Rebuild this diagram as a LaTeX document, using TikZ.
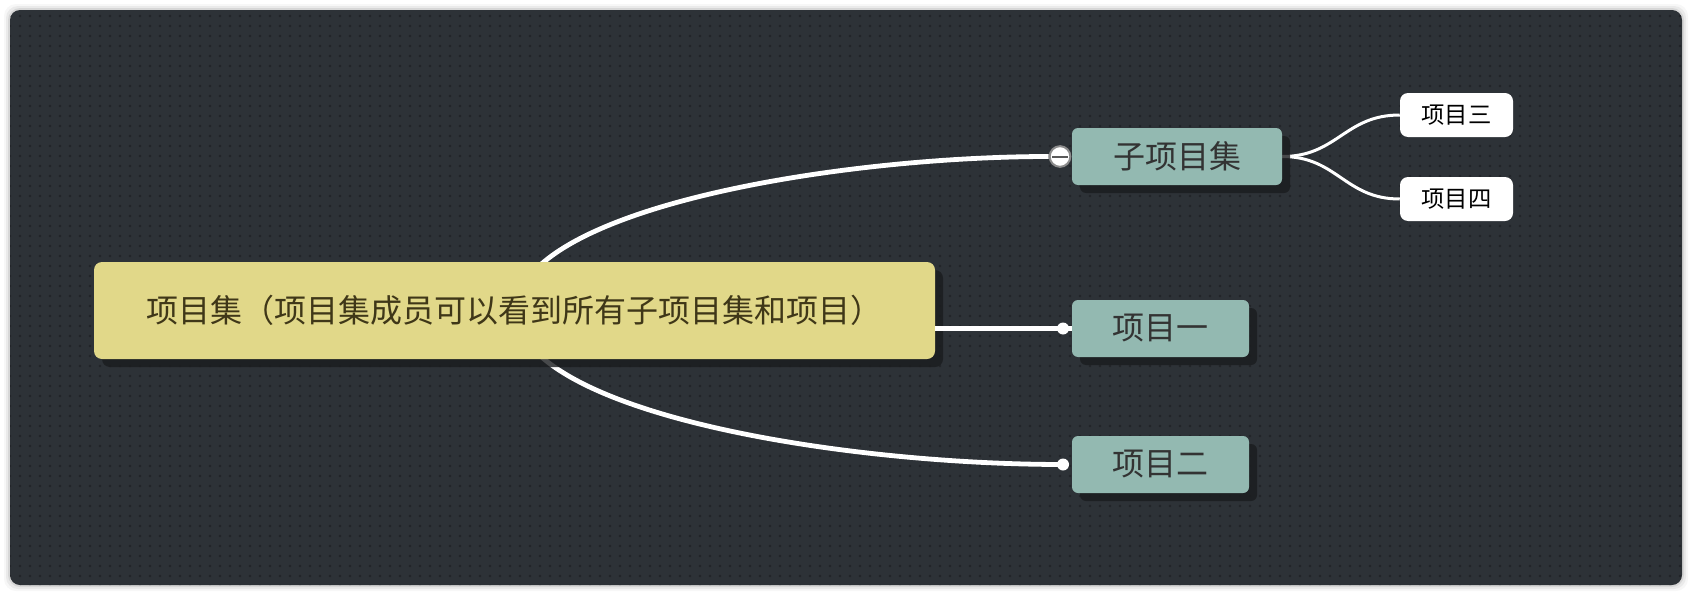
\documentclass[tikz,border=0pt]{standalone}
\usepackage{fontspec}
\setmainfont{Noto Sans CJK SC}
\usetikzlibrary{
  calc,shadows,patterns.meta,backgrounds
}
\definecolor{panelbg}{HTML}{2D3237}
\definecolor{paneldot}{HTML}{212428}
\definecolor{nodeshade}{HTML}{1A1C1E}
\definecolor{rootfill}{HTML}{E1D889}
\definecolor{roottext}{HTML}{3F3718}
\definecolor{topicfill}{HTML}{93B9B1}
\definecolor{topictext}{HTML}{333333}
\definecolor{knobring}{HTML}{8C8C8C}
\definecolor{knobbar}{HTML}{5A5A5A}

\begin{document}
\begin{tikzpicture}[x=0.75pt,y=-0.75pt,
  root/.style={fill=rootfill,text=roottext,rounded corners=6pt,inner sep=0pt,
    minimum width=630.75pt,minimum height=72.75pt,font=\fontsize{24}{28}\selectfont,
    drop shadow={shadow xshift=6pt,shadow yshift=-6pt,fill=nodeshade,opacity=0.8}},
  topic/.style={fill=topicfill,text=topictext,rounded corners=4.5pt,inner sep=0pt,
    minimum width=132.75pt,minimum height=42.75pt,font=\fontsize{24}{28}\selectfont,
    drop shadow={shadow xshift=6pt,shadow yshift=-6pt,fill=nodeshade,opacity=0.8}},
  leaf/.style={fill=white,text=black,rounded corners=6pt,inner sep=0pt,
    minimum width=84.75pt,minimum height=33pt,font=\fontsize{17.5}{21}\selectfont},
  knob/.style={circle,fill=white,draw=knobring,line width=1.5pt,inner sep=0pt,minimum size=15.5pt},
  tip/.style={circle,fill=white,inner sep=0pt,minimum size=9pt},
  conn/.style={white,line width=3.6pt},
  twig/.style={white,line width=2.25pt}]

\useasboundingbox (0,0) rectangle (1692,596);

\node[root] (root) at (514.5,310.5) {项目集（项目集成员可以看到所有子项目集和项目）};
\node[topic,minimum width=157.5pt] (group) at (1177,156.5) {子项目集};
\node[topic] (itemA) at (1160.5,328.5) {项目一};
\node[topic] (itemB) at (1160.5,464.5) {项目二};
\node[leaf] (itemC) at (1456.5,115) {项目三};
\node[leaf] (itemD) at (1456.5,199) {项目四};
\draw[conn] (root.east |- itemA) -- (itemA.west);
\node[knob] (knob) at (1060,156.5) {};
\node[tip] (tipA) at (1063,328.5) {};
\node[tip] (tipB) at (1063,464.5) {};
\draw[knobbar,line width=1.5pt] ($(knob.center)+(-8,0)$) -- ($(knob.center)+(8,0)$);

\begin{scope}[on background layer]
\fill[white] (0,0) rectangle (1692,596);
\foreach \g/\o in {6/0.03,4/0.05,2/0.08}
  \fill[black,opacity=\o,rounded corners=9pt] (10-\g,10-\g) rectangle (1682+\g,585+\g);
\fill[panelbg,rounded corners=7.5pt] (10,10) rectangle (1682,585);
\fill[pattern={Dots[distance=7.5pt,radius=1pt]},pattern color=paneldot,rounded corners=7.5pt]
  (10,10) rectangle (1682,585);
\draw[conn] (root.center) .. controls +(8,-104) and +(-205,0) .. (knob.west);
\draw[conn] (root.center) .. controls +(8,104) and +(-218,0) .. (tipB.center);
\draw[twig] (group.east) .. controls +(55,0) and +(-55,0) .. (itemC.west);
\draw[twig] (group.east) .. controls +(55,0) and +(-55,0) .. (itemD.west);
\end{scope}
\end{tikzpicture}
\end{document}
